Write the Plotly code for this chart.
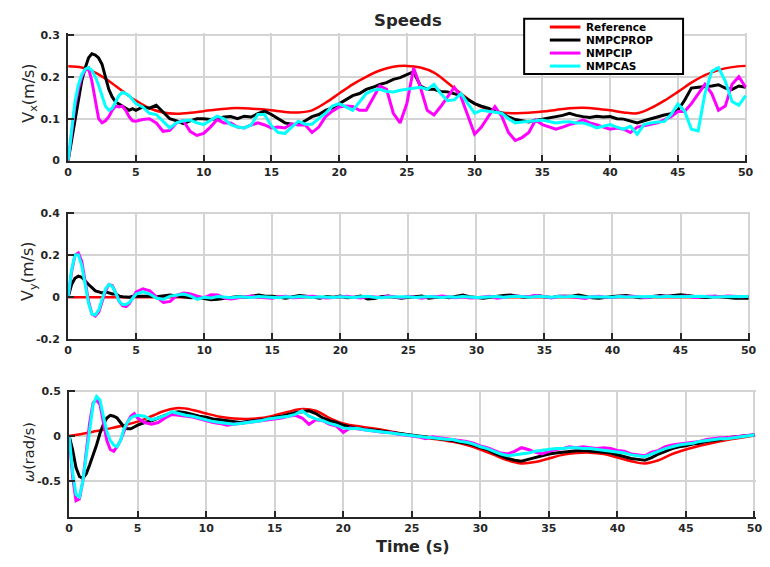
import plotly.graph_objects as go

# ---------------- data ----------------
# time grids (s)
t_ref = list(range(0, 51))
t_meas = [i * 0.25 for i in range(20)] + [5 + i * 0.5 for i in range(91)]

# ---- Vx (m/s) ----
vx_ref = [0.225, 0.222, 0.21, 0.19, 0.166, 0.143, 0.125, 0.115, 0.112, 0.114,
          0.118, 0.122, 0.125, 0.125, 0.123, 0.12, 0.116, 0.115, 0.12, 0.138,
          0.16, 0.182, 0.2, 0.215, 0.224, 0.226, 0.222, 0.21, 0.186, 0.16,
          0.136, 0.122, 0.115, 0.113, 0.114, 0.117, 0.121, 0.125, 0.126, 0.124,
          0.12, 0.115, 0.113, 0.125, 0.143, 0.164, 0.186, 0.204, 0.216, 0.223,
          0.226]
vx_prop = ([0, 0.05, 0.1, 0.15, 0.19, 0.22, 0.245, 0.255, 0.252, 0.245,
            0.23, 0.2, 0.17, 0.152, 0.14, 0.135, 0.13, 0.126, 0.12, 0.124]
           + [0.12, 0.128, 0.125, 0.132, 0.115, 0.1, 0.095, 0.088, 0.095, 0.1]
           + [0.1, 0.098, 0.1, 0.104, 0.105, 0.1, 0.106, 0.104, 0.112, 0.118]
           + [0.11, 0.1, 0.09, 0.087, 0.086, 0.095, 0.105, 0.11, 0.12, 0.126]
           + [0.136, 0.145, 0.155, 0.16, 0.17, 0.175, 0.182, 0.186, 0.194, 0.198]
           + [0.205, 0.212, 0.178, 0.17, 0.17, 0.165, 0.164, 0.16, 0.155, 0.146]
           + [0.136, 0.13, 0.125, 0.118, 0.113, 0.104, 0.098, 0.095, 0.092, 0.096]
           + [0.099, 0.102, 0.105, 0.108, 0.113, 0.108, 0.105, 0.103, 0.106, 0.104]
           + [0.105, 0.1, 0.099, 0.094, 0.09, 0.095, 0.1, 0.104, 0.109, 0.112]
           + [0.12, 0.144, 0.173, 0.175, 0.176, 0.178, 0.181, 0.173, 0.17, 0.178]
           + [0.175])
vx_ip = ([0, 0.06, 0.13, 0.17, 0.2, 0.215, 0.22, 0.19, 0.14, 0.1,
          0.09, 0.095, 0.105, 0.12, 0.13, 0.128, 0.13, 0.12, 0.105, 0.095]
         + [0.094, 0.098, 0.1, 0.09, 0.07, 0.072, 0.09, 0.095, 0.07, 0.06]
         + [0.065, 0.08, 0.098, 0.09, 0.09, 0.08, 0.078, 0.085, 0.09, 0.085]
         + [0.078, 0.08, 0.078, 0.088, 0.085, 0.085, 0.067, 0.08, 0.105, 0.118]
         + [0.128, 0.13, 0.129, 0.12, 0.12, 0.148, 0.178, 0.17, 0.113, 0.09]
         + [0.136, 0.221, 0.175, 0.12, 0.109, 0.129, 0.152, 0.175, 0.152, 0.106]
         + [0.063, 0.08, 0.106, 0.129, 0.106, 0.067, 0.048, 0.055, 0.067, 0.097]
         + [0.086, 0.08, 0.075, 0.08, 0.086, 0.09, 0.097, 0.09, 0.086, 0.08]
         + [0.075, 0.078, 0.075, 0.067, 0.08, 0.083, 0.086, 0.09, 0.097, 0.105]
         + [0.117, 0.117, 0.136, 0.16, 0.182, 0.16, 0.12, 0.13, 0.182, 0.2]
         + [0.175])
vx_as = ([0, 0.07, 0.14, 0.18, 0.205, 0.218, 0.222, 0.215, 0.2, 0.18,
          0.155, 0.13, 0.12, 0.125, 0.14, 0.155, 0.163, 0.16, 0.155, 0.145]
         + [0.136, 0.128, 0.113, 0.11, 0.094, 0.078, 0.09, 0.095, 0.097, 0.09]
         + [0.086, 0.095, 0.106, 0.1, 0.086, 0.08, 0.078, 0.085, 0.11, 0.11]
         + [0.083, 0.067, 0.065, 0.08, 0.094, 0.087, 0.087, 0.1, 0.113, 0.13]
         + [0.136, 0.128, 0.12, 0.14, 0.16, 0.168, 0.17, 0.165, 0.164, 0.168]
         + [0.17, 0.172, 0.175, 0.17, 0.182, 0.16, 0.143, 0.145, 0.16, 0.136]
         + [0.113, 0.12, 0.118, 0.115, 0.113, 0.1, 0.09, 0.092, 0.093, 0.095]
         + [0.097, 0.093, 0.09, 0.092, 0.093, 0.09, 0.09, 0.085, 0.078, 0.082]
         + [0.086, 0.08, 0.075, 0.082, 0.063, 0.086, 0.09, 0.092, 0.093, 0.11]
         + [0.135, 0.118, 0.075, 0.071, 0.16, 0.213, 0.222, 0.19, 0.141, 0.132]
         + [0.155])

# ---- Vy (m/s) ----
vy_ref = [0.0] * 51
vy_prop = ([0, 0.06, 0.09, 0.1, 0.095, 0.075, 0.06, 0.045, 0.03, 0.025,
            0.02, 0.025, 0.02, 0.015, 0.015, 0.005, 0.002, 0, 0, 0.005]
           + [0.005, 0.008, 0.005, 0.002, 0.005, 0.01, 0.005, 0, -0.003, 0]
           + [-0.005, -0.012, -0.01, -0.005, 0, 0.003, 0.0, 0.005, 0.01, 0.005]
           + [0.005, 0, -0.005, 0.002, 0.008, 0.005, 0.0, -0.005, 0.003, 0]
           + [0.005, -0.003, 0, 0.005, -0.008, -0.006, 0.002, 0.005, 0, -0.005]
           + [0, 0.003, 0.005, -0.005, 0, 0.003, -0.002, 0.005, 0.01, 0.002]
           + [0, -0.005, 0, 0.005, 0.008, 0.01, 0.005, 0.0, 0.003, 0.008]
           + [0.002, -0.002, 0.005, 0.004, 0.005, 0.01, 0.004, -0.003, -0.005, 0]
           + [0.003, 0.006, 0.008, 0.003, -0.003, -0.002, 0.002, 0.008, 0.004, 0.008]
           + [0.012, 0.008, 0.003, 0.0, -0.002, 0.004, 0.002, -0.002, -0.005, -0.004]
           + [-0.005])
vy_ip = ([0, 0.12, 0.2, 0.21, 0.17, 0.08, -0.02, -0.08, -0.09, -0.07,
          -0.02, 0.03, 0.06, 0.055, 0.02, -0.02, -0.04, -0.045, -0.03, 0.0]
         + [0.025, 0.04, 0.03, 0.0, -0.025, -0.02, 0.01, 0.02, 0.015, 0.005]
         + [-0.002, 0.012, 0.01, -0.005, -0.008, -0.003, 0.002, 0.005, 0.0, -0.004]
         + [-0.005, 0.002, 0.004, -0.003, -0.002, 0.003, 0.005, 0.0, -0.004, -0.002]
         + [0, 0.004, 0.0, -0.004, 0.003, 0.002, -0.002, 0.005, 0, -0.003]
         + [0.004, 0.0, -0.005, 0.003, 0.002, 0.006, 0, -0.003, 0.002, -0.004]
         + [-0.003, 0.002, 0.004, -0.005, 0.0, 0.003, 0.006, 0.002, 0.004, 0.008]
         + [0.002, -0.004, 0.003, 0.005, 0.002, -0.003, -0.006, 0.002, 0.004, 0.0]
         + [-0.002, 0.004, 0.002, 0.005, 0.0, -0.003, 0.004, 0.002, 0.006, 0.002]
         + [0.003, 0.006, -0.002, 0.002, 0.005, 0.004, 0.002, 0.006, 0.004, 0.002]
         + [0.004])
vy_as = ([0, 0.13, 0.2, 0.2, 0.15, 0.06, -0.03, -0.08, -0.085, -0.06,
          -0.01, 0.04, 0.06, 0.05, 0.02, -0.02, -0.035, -0.035, -0.025, -0.005]
         + [0.015, 0.025, 0.015, -0.005, -0.01, 0.005, 0.01, 0.015, 0.005, -0.01]
         + [0.0, -0.004, 0.003, 0.0, -0.003, 0.002, 0.0, -0.002, 0.003, 0.001]
         + [0.0, -0.003, 0.002, 0.0, 0.003, 0.001, -0.002, 0.002, 0.0, -0.002]
         + [0.002, 0.0, -0.002, 0.002, 0.004, 0.0, -0.003, 0.001, 0.002, 0.0]
         + [0.002, -0.002, 0.0, 0.003, 0.001, -0.002, 0.002, 0.0, 0.003, 0.001]
         + [-0.002, 0.0, 0.002, 0.003, 0.0, 0.002, 0.005, 0.002, 0.0, 0.004]
         + [0.002, 0.0, 0.003, 0.001, 0.004, 0.002, 0.0, 0.002, 0.003, 0.001]
         + [0.0, 0.003, 0.001, 0.002, 0.0, 0.002, 0.003, 0.001, 0.004, 0.002]
         + [0.002, 0.0, 0.003, 0.004, 0.002, 0.0, 0.002, 0.003, 0.004, 0.002]
         + [0.003])

# ---- omega (rad/s) ----
w_ref = [0.0, 0.025, 0.055, 0.085, 0.12, 0.16, 0.22, 0.28, 0.31, 0.29,
         0.25, 0.215, 0.195, 0.19, 0.2, 0.23, 0.27, 0.3, 0.28, 0.2,
         0.14, 0.11, 0.09, 0.065, 0.035, 0.005, -0.02, -0.04, -0.065, -0.1,
         -0.15, -0.21, -0.27, -0.305, -0.29, -0.25, -0.21, -0.19, -0.185, -0.2,
         -0.24, -0.28, -0.305, -0.27, -0.2, -0.15, -0.11, -0.075, -0.045, -0.02,
         0.005]
w_prop = ([0, -0.15, -0.35, -0.45, -0.47, -0.42, -0.32, -0.22, -0.1, 0.03,
           0.13, 0.2, 0.23, 0.22, 0.2, 0.15, 0.1, 0.08, 0.08, 0.1]
          + [0.12, 0.15, 0.17, 0.2, 0.23, 0.26, 0.27, 0.26, 0.24, 0.22]
          + [0.21, 0.19, 0.18, 0.17, 0.16, 0.15, 0.16, 0.17, 0.18, 0.19]
          + [0.21, 0.22, 0.24, 0.26, 0.27, 0.28, 0.25, 0.2, 0.17, 0.15]
          + [0.12, 0.1, 0.085, 0.075, 0.07, 0.06, 0.05, 0.04, 0.03, 0.02]
          + [0.01, 0.0, -0.01, -0.02, -0.03, -0.04, -0.05, -0.07, -0.08, -0.1]
          + [-0.13, -0.15, -0.19, -0.22, -0.25, -0.27, -0.28, -0.26, -0.24, -0.22]
          + [-0.2, -0.19, -0.18, -0.17, -0.165, -0.16, -0.165, -0.17, -0.18, -0.19]
          + [-0.21, -0.23, -0.25, -0.26, -0.27, -0.24, -0.2, -0.17, -0.14, -0.12]
          + [-0.11, -0.09, -0.08, -0.06, -0.05, -0.04, -0.02, -0.01, 0.0, 0.005]
          + [0.01])
w_ip = ([0, -0.45, -0.72, -0.7, -0.5, -0.2, 0.15, 0.37, 0.4, 0.35,
         0.15, -0.05, -0.15, -0.17, -0.12, -0.05, 0.05, 0.15, 0.22, 0.25]
        + [0.2, 0.15, 0.13, 0.15, 0.2, 0.24, 0.23, 0.22, 0.21, 0.19]
        + [0.17, 0.15, 0.14, 0.12, 0.13, 0.14, 0.15, 0.16, 0.17, 0.18]
        + [0.19, 0.2, 0.22, 0.23, 0.2, 0.13, 0.18, 0.17, 0.13, 0.11]
        + [0.04, 0.09, 0.08, 0.07, 0.06, 0.05, 0.04, 0.04, 0.02, 0.01]
        + [0.0, -0.01, -0.03, -0.01, -0.02, -0.03, -0.04, -0.05, -0.06, -0.08]
        + [-0.11, -0.13, -0.16, -0.19, -0.2, -0.17, -0.13, -0.15, -0.18, -0.2]
        + [-0.17, -0.15, -0.14, -0.12, -0.13, -0.12, -0.13, -0.14, -0.13, -0.14]
        + [-0.16, -0.17, -0.2, -0.21, -0.22, -0.18, -0.16, -0.12, -0.1, -0.09]
        + [-0.08, -0.07, -0.06, -0.04, -0.03, -0.02, -0.02, -0.01, 0.0, 0.01]
        + [0.015])
w_as = ([0, -0.4, -0.65, -0.68, -0.5, -0.2, 0.1, 0.35, 0.44, 0.4,
         0.22, 0.05, -0.05, -0.1, -0.12, -0.05, 0.08, 0.15, 0.2, 0.22]
        + [0.23, 0.22, 0.18, 0.2, 0.23, 0.27, 0.25, 0.23, 0.22, 0.2]
        + [0.18, 0.16, 0.15, 0.14, 0.13, 0.14, 0.15, 0.16, 0.17, 0.19]
        + [0.2, 0.21, 0.22, 0.24, 0.28, 0.22, 0.19, 0.17, 0.14, 0.12]
        + [0.09, 0.08, 0.085, 0.07, 0.06, 0.05, 0.045, 0.03, 0.02, 0.01]
        + [0.0, -0.01, -0.015, -0.02, -0.03, -0.035, -0.04, -0.06, -0.07, -0.09]
        + [-0.12, -0.14, -0.17, -0.2, -0.22, -0.21, -0.2, -0.19, -0.17, -0.16]
        + [-0.15, -0.14, -0.14, -0.13, -0.13, -0.14, -0.14, -0.15, -0.16, -0.17]
        + [-0.18, -0.19, -0.21, -0.22, -0.23, -0.2, -0.17, -0.14, -0.12, -0.1]
        + [-0.09, -0.08, -0.06, -0.05, -0.04, -0.03, -0.03, -0.02, -0.01, 0.0]
        + [0.01])

series_names = ["Reference", "NMPCPROP", "NMPCIP", "NMPCAS"]
series_colors = ["#FF0000", "#000000", "#FF00FF", "#00FFFF"]

x_ticks = list(range(0, 51, 5))
y1_ticks = [0, 0.1, 0.2, 0.3]
y1_labels = ["0", "0.1", "0.2", "0.3"]
y2_ticks = [-0.2, 0, 0.2, 0.4]
y2_labels = ["-0.2", "0", "0.2", "0.4"]
y3_ticks = [-0.5, 0, 0.5]
y3_labels = ["-0.5", "0", "0.5"]

for arr in [vx_prop, vx_ip, vx_as, vy_prop, vy_ip, vy_as, w_prop, w_ip, w_as]:
    assert len(arr) == len(t_meas), len(arr)

# ---------------- figure ----------------
W, H = 770, 567
TXT = "#262626"
FONT = "DejaVu Sans, Liberation Sans, Arial"

fig = go.Figure()

panels = [
    ("x", "y", vx_ref, [vx_prop, vx_ip, vx_as]),
    ("x2", "y2", vy_ref, [vy_prop, vy_ip, vy_as]),
    ("x3", "y3", w_ref, [w_prop, w_ip, w_as]),
]
for xa, ya, ref, meas in panels:
    fig.add_trace(go.Scatter(x=t_ref, y=ref, mode="lines", name=series_names[0],
                             line=dict(color=series_colors[0], width=2.5, shape="spline"),
                             xaxis=xa, yaxis=ya, showlegend=False, hoverinfo="skip"))
    for k, s in enumerate(meas):
        fig.add_trace(go.Scatter(x=t_meas, y=s, mode="lines", name=series_names[k + 1],
                                 line=dict(color=series_colors[k + 1], width=3),
                                 xaxis=xa, yaxis=ya, showlegend=False, hoverinfo="skip"))


def xd(a, b):
    return [a / W, b / W]


def yd(top, bottom):
    return [1 - bottom / H, 1 - top / H]


ax_common = dict(showline=True, linecolor=TXT, linewidth=2,
                 ticks="inside", ticklen=6, tickwidth=2, tickcolor=TXT,
                 showgrid=True, gridcolor="#d4d4d4", gridwidth=1.5,
                 zeroline=False,
                 tickfont=dict(family=FONT, size=11, color=TXT, weight="bold"))

x_common = dict(ax_common, range=[0, 50.12], tickvals=x_ticks,
                ticktext=[str(v) for v in x_ticks])

fig.update_layout(
    width=W, height=H,
    margin=dict(l=0, r=0, t=0, b=0),
    paper_bgcolor="white", plot_bgcolor="white",
    showlegend=False,
    xaxis=dict(x_common, domain=xd(65, 753), anchor="y"),
    yaxis=dict(ax_common, domain=yd(29, 159), anchor="x", range=[0, 0.3035],
               tickvals=y1_ticks, ticktext=y1_labels, ticklabelstandoff=4),
    xaxis2=dict(x_common, domain=xd(65, 756), anchor="y2"),
    yaxis2=dict(ax_common, domain=yd(211, 341.5), anchor="x2", range=[-0.2, 0.407],
                tickvals=y2_ticks, ticktext=y2_labels, ticklabelstandoff=4),
    xaxis3=dict(x_common, domain=xd(66, 762), anchor="y3"),
    yaxis3=dict(ax_common, domain=yd(393, 523), anchor="x3", range=[-0.9, 0.515],
                tickvals=y3_ticks, ticktext=y3_labels, ticklabelstandoff=4),
)

ann = []
# title
ann.append(dict(text="<b>Speeds</b>", x=409 / W, y=1 - 16 / H, xref="paper", yref="paper",
                xanchor="center", yanchor="middle", showarrow=False,
                font=dict(family=FONT, size=16.5, color=TXT)))
# x-axis title
ann.append(dict(text="<b>Time (s)</b>", x=414 / W, y=1 - 553 / H, xref="paper", yref="paper",
                xanchor="center", yanchor="middle", showarrow=False,
                font=dict(family=FONT, size=16, color=TXT)))
# y-axis titles
ann.append(dict(text="V<sub>x</sub>(m/s)", x=25 / W, y=1 - 90 / H, xref="paper", yref="paper",
                xanchor="center", yanchor="middle", textangle=-90, showarrow=False,
                font=dict(family=FONT, size=16, color=TXT)))
ann.append(dict(text="V<sub>y</sub>(m/s)", x=25 / W, y=1 - 272 / H, xref="paper", yref="paper",
                xanchor="center", yanchor="middle", textangle=-90, showarrow=False,
                font=dict(family=FONT, size=16, color=TXT)))
ann.append(dict(text="<i>ω</i>(rad/s)", x=26 / W, y=1 - 457 / H, xref="paper", yref="paper",
                xanchor="center", yanchor="middle", textangle=-90, showarrow=False,
                font=dict(family=FONT, size=14.5, color=TXT)))

# legend (drawn manually to match the boxed MATLAB legend)
shapes = [dict(type="rect", xref="paper", yref="paper",
               x0=527 / W, x1=688 / W, y0=1 - 70.5 / H, y1=1 - 14 / H,
               line=dict(color="#000000", width=2), fillcolor="white", layer="above")]
row_y = [22.5, 35.8, 49.1, 62.4]
for name, col, ry in zip(series_names, series_colors, row_y):
    shapes.append(dict(type="line", xref="paper", yref="paper",
                       x0=553 / W, x1=584 / W, y0=1 - ry / H, y1=1 - ry / H,
                       line=dict(color=col, width=3), layer="above"))
    ann.append(dict(text="<b>%s</b>" % name, x=588 / W, y=1 - ry / H, xref="paper", yref="paper",
                    xanchor="left", yanchor="middle", showarrow=False,
                    font=dict(family=FONT, size=10.5, color="#000000")))

fig.update_layout(annotations=ann, shapes=shapes)

fig.write_html("out.html")
